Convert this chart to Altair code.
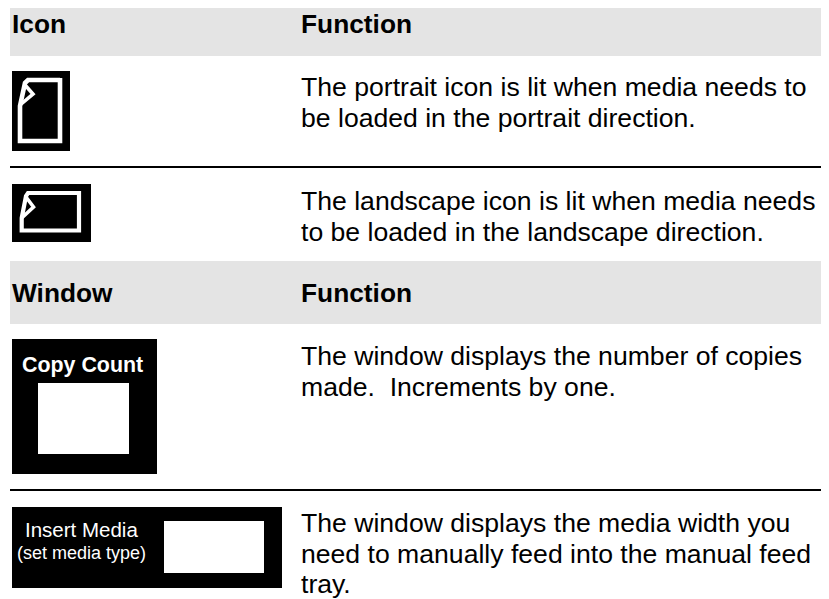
import altair as alt
import pandas as pd

W, H = 813, 591
X = alt.Scale(domain=[8, 8 + W], range=[0, W], nice=False, zero=False, clamp=True)
Y = alt.Scale(domain=[8, 8 + H], range=[0, H], nice=False, zero=False, clamp=True)
Y_text = alt.Scale(domain=[8, 8 + H], range=[0, H], nice=False, zero=False)

# Filled blocks
block_fill = ["#e4e4e4", "#e4e4e4", "#000000", "#000000", "#000000", "#000000", "#ffffff", "#ffffff"]
block_x = [10, 10, 12, 12, 12, 12, 38, 164]
block_x2 = [829, 829, 70, 91, 157, 282, 129, 264]
block_y = [0, 261, 71, 184, 339, 507, 383, 521]
block_y2 = [56, 324, 151, 242, 474, 588, 454, 573]

# Rules
rule_y = [167, 490]
rule_x = [10, 10]
rule_x2 = [829, 829]

# Icon outlines
portrait_x = [60, 28, 25, 20, 20, 60, 60]
portrait_y = [80, 80, 83, 106, 141, 141, 78]
portrait_fold_x = [25, 33, 20]
portrait_fold_y = [85, 94, 105]
landscape_x = [79, 28, 26, 21.7, 21.7, 79, 79]
landscape_y = [193, 193, 196, 218, 230.5, 230.5, 191]
landscape_fold_x = [26, 33.5, 21.7]
landscape_fold_y = [197, 207, 218]

# Text
text_labels = [
    "Icon", "Function", "Window", "Function",
    "The portrait icon is lit when media needs to",
    "be loaded in the portrait direction.",
    "The landscape icon is lit when media needs",
    "to be loaded in the landscape direction.",
    "The window displays the number of copies",
    "made.\u00a0 Increments by one.",
    "The window displays the media width you",
    "need to manually feed into the manual feed",
    "tray.",
    "Copy Count", "Insert Media", "(set media type)",
]
text_x = [12, 301, 12, 301, 301, 301, 301, 301, 301, 301, 301, 301, 301, 22, 25, 17]
text_y = [33, 33, 302, 302, 96, 127, 210, 241, 365, 396, 532, 563, 593, 372, 537, 559]
text_size = [26.3, 26.3, 26.3, 26.3, 26.6, 26.6, 26.6, 26.6, 26.6, 26.6, 26.6, 26.6, 26.6, 21.4, 20.5, 18]
text_weight = ["bold"] * 4 + ["normal"] * 9 + ["bold", "normal", "normal"]
text_color = ["#000000"] * 13 + ["#ffffff"] * 3

blocks = pd.DataFrame(dict(x=block_x, x2=block_x2, y=block_y, y2=block_y2, c=block_fill, o=range(len(block_x))))
layers = [
    alt.Chart(blocks).mark_rect().encode(
        x=alt.X("x:Q", scale=X, axis=None), x2="x2:Q",
        y=alt.Y("y:Q", scale=Y, axis=None), y2="y2:Q",
        color=alt.Color("c:N", scale=None), order="o:Q"),
    alt.Chart(pd.DataFrame(dict(x=rule_x, x2=rule_x2, y=rule_y))).mark_rule(color="#000000", strokeWidth=2).encode(
        x=alt.X("x:Q", scale=X, axis=None), x2="x2:Q", y=alt.Y("y:Q", scale=Y, axis=None)),
]
for px, py, sw in [(portrait_x, portrait_y, 4.6), (portrait_fold_x, portrait_fold_y, 3.6),
                   (landscape_x, landscape_y, 4.2), (landscape_fold_x, landscape_fold_y, 3.6)]:
    df = pd.DataFrame(dict(x=px, y=py, o=range(len(px))))
    layers.append(alt.Chart(df).mark_line(color="#ffffff", strokeWidth=sw, strokeJoin="miter").encode(
        x=alt.X("x:Q", scale=X, axis=None), y=alt.Y("y:Q", scale=Y, axis=None), order="o:Q"))
tdf = pd.DataFrame(dict(x=text_x, y=text_y, t=text_labels, s=text_size, w=text_weight, c=text_color))
for w, g in tdf.groupby("w"):
    layers.append(alt.Chart(g).mark_text(font="Liberation Sans", baseline="alphabetic", align="left", fontWeight=w).encode(
        x=alt.X("x:Q", scale=X, axis=None), y=alt.Y("y:Q", scale=Y_text, axis=None), text="t:N",
        size=alt.Size("s:Q", scale=None, legend=None), color=alt.Color("c:N", scale=None)))

chart = alt.layer(*layers).properties(width=W, height=H, padding=0, autosize="none").configure_view(stroke=None)
chart.save("out.html", embed_options={"renderer": "svg", "actions": False})
